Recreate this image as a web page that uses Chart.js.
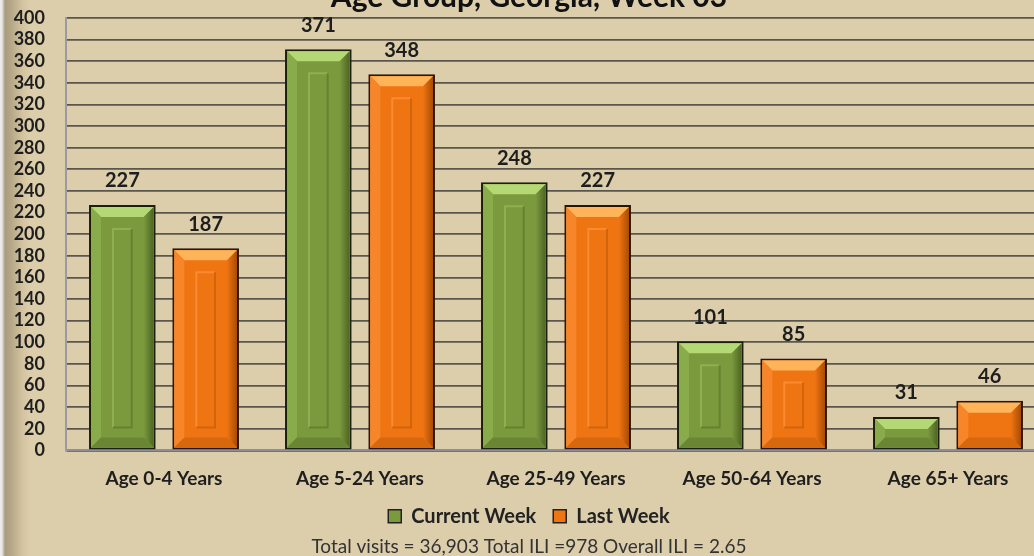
<!DOCTYPE html>
<html>
<head>
<meta charset="utf-8">
<script src="https://cdn.jsdelivr.net/npm/chart.js@4/dist/chart.umd.min.js"></script>
<style>
  html, body { margin: 0; padding: 0; width: 1034px; height: 556px; overflow: hidden; }
  body {
    background: linear-gradient(to right, #ededed 0px, #e6e6e6 2px, #a89a7e 5px, #b8a988 12px, #d2c2a0 22px, #dccdab 30px);
    position: relative;
  }
  #wrap { position: absolute; left: 0; top: -26px; width: 1046px; height: 584px; }
</style>
</head>
<body>
<div id="wrap"><canvas id="c" width="1046" height="584"></canvas></div>
<script>
const categories = ["Age 0-4 Years", "Age 5-24 Years", "Age 25-49 Years", "Age 50-64 Years", "Age 65+ Years"];
const currentWeek = [227, 371, 248, 101, 31];
const lastWeek = [187, 348, 227, 85, 46];
const seriesNames = ["Current Week", "Last Week"];
const yTicks = [0,20,40,60,80,100,120,140,160,180,200,220,240,260,280,300,320,340,360,380,400];
const titleText = "Age Group, Georgia, Week 03";
const subtitleText = "Total visits = 36,903 Total ILI =978 Overall ILI = 2.65";

const FONT = 'Lato, "Open Sans", sans-serif';

const palettes = [
  { main: '#7b9a3e', light: '#b4d873', left: '#8aab4a', right: '#4d6423', bottom: '#6a8634', panelHi: '#8fb050', panelLo: '#66822f' },
  { main: '#ef7412', light: '#ffb45a', left: '#f7852a', right: '#a84c06', bottom: '#d8680e', panelHi: '#fb8a30', panelLo: '#d2640c' }
];

const bevelPlugin = {
  id: 'bevel',
  afterDatasetsDraw(chart) {
    const ctx = chart.ctx;
    chart.data.datasets.forEach((ds, di) => {
      const meta = chart.getDatasetMeta(di);
      const p = palettes[di];
      meta.data.forEach((bar, i) => {
        const half = bar.width / 2;
        const bw = 2;
        const x0 = bar.x - half + bw, x1 = bar.x + half - bw;
        const y0 = bar.y + bw, y1 = bar.base - bw;
        const h = y1 - y0;
        const b = Math.min(10, h / 2.5);
        ctx.save();
        ctx.fillStyle = p.light;
        ctx.beginPath(); ctx.moveTo(x0, y0); ctx.lineTo(x1, y0); ctx.lineTo(x1 - b, y0 + b); ctx.lineTo(x0 + b, y0 + b); ctx.closePath(); ctx.fill();
        const gR = ctx.createLinearGradient(x1 - b, 0, x1, 0);
        gR.addColorStop(0, p.main); gR.addColorStop(1, p.right);
        ctx.fillStyle = gR;
        ctx.beginPath(); ctx.moveTo(x1, y0); ctx.lineTo(x1, y1); ctx.lineTo(x1 - b, y1 - b); ctx.lineTo(x1 - b, y0 + b); ctx.closePath(); ctx.fill();
        ctx.fillStyle = p.left;
        ctx.beginPath(); ctx.moveTo(x0, y0); ctx.lineTo(x0 + b, y0 + b); ctx.lineTo(x0 + b, y1 - b); ctx.lineTo(x0, y1); ctx.closePath(); ctx.fill();
        ctx.fillStyle = p.bottom;
        ctx.beginPath(); ctx.moveTo(x0, y1); ctx.lineTo(x0 + b, y1 - b); ctx.lineTo(x1 - b, y1 - b); ctx.lineTo(x1, y1); ctx.closePath(); ctx.fill();
        if (h > 60) {
          const px0 = x0 + 22, px1 = x1 - 22, py0 = y0 + 22, py1 = y1 - 20;
          ctx.lineWidth = 2;
          ctx.strokeStyle = p.panelHi;
          ctx.beginPath(); ctx.moveTo(px0, py1); ctx.lineTo(px0, py0); ctx.lineTo(px1, py0); ctx.stroke();
          ctx.strokeStyle = p.panelLo;
          ctx.beginPath(); ctx.moveTo(px1, py0); ctx.lineTo(px1, py1); ctx.lineTo(px0, py1); ctx.stroke();
        }
        ctx.restore();
      });
    });
  }
};

const labelPlugin = {
  id: 'valueLabels',
  afterDatasetsDraw(chart) {
    const ctx = chart.ctx;
    ctx.save();
    ctx.font = 'bold 20px ' + FONT;
    ctx.fillStyle = '#1e1e1e';
    ctx.textAlign = 'center';
    ctx.textBaseline = 'middle';
    chart.data.datasets.forEach((ds, di) => {
      const meta = chart.getDatasetMeta(di);
      meta.data.forEach((bar, i) => {
        ctx.fillText(String(ds.data[i]), bar.x, bar.y - 24);
      });
    });
    ctx.restore();
  }
};

new Chart(document.getElementById('c'), {
  type: 'bar',
  data: {
    labels: categories,
    datasets: [
      { label: seriesNames[0], data: currentWeek, backgroundColor: palettes[0].main, borderColor: '#1b1f10', borderWidth: 2, borderSkipped: false },
      { label: seriesNames[1], data: lastWeek, backgroundColor: palettes[1].main, borderColor: '#2a1404', borderWidth: 2, borderSkipped: false }
    ]
  },
  options: {
    responsive: false,
    animation: false,
    layout: { padding: { left: 12, right: 0, top: 0, bottom: 0 } },
    datasets: { bar: { categoryPercentage: 0.85, barPercentage: 0.8 } },
    plugins: {
      title: {
        display: true, text: titleText, color: '#111',
        font: { family: FONT, size: 30, weight: 'bold' },
        padding: { top: 5, bottom: 3 }
      },
      subtitle: {
        display: true, position: 'bottom', text: subtitleText, color: '#333',
        font: { family: FONT, size: 19, weight: 'normal' },
        padding: { top: 0, bottom: 0 }
      },
      legend: {
        position: 'bottom',
        maxHeight: 46,
        labels: {
          color: '#222', boxWidth: 13, boxHeight: 13, padding: 17,
          font: { family: FONT, size: 20, weight: 'bold' },
          generateLabels(chart) {
            return chart.data.datasets.map((ds, i) => ({
              text: ds.label, fillStyle: palettes[i].main, strokeStyle: '#222', lineWidth: 1.5,
              datasetIndex: i, hidden: false, fontColor: '#222'
            }));
          }
        }
      },
      tooltip: { enabled: false }
    },
    scales: {
      x: {
        grid: { display: false, drawTicks: false },
        border: { display: true, color: '#8f8f96', width: 2 },
        afterFit(scale) { scale.height -= 18; },
        ticks: { color: '#1e1e1e', padding: 17, font: { family: FONT, size: 19, weight: 'bold' } }
      },
      y: {
        min: 0, max: 400,
        afterBuildTicks(scale) { scale.ticks = yTicks.map(v => ({ value: v })); },
        afterFit(scale) { scale.width = 54; },
        grid: { color: '#5a564e', lineWidth: 1.7, drawTicks: false },
        border: { display: true, color: '#9a9aa2', width: 2 },
        ticks: { color: '#1e1e1e', padding: 21, autoSkip: false, font: { family: FONT, size: 18, weight: 'bold' } }
      }
    }
  },
  plugins: [bevelPlugin, labelPlugin]
});
</script>
</body>
</html>
